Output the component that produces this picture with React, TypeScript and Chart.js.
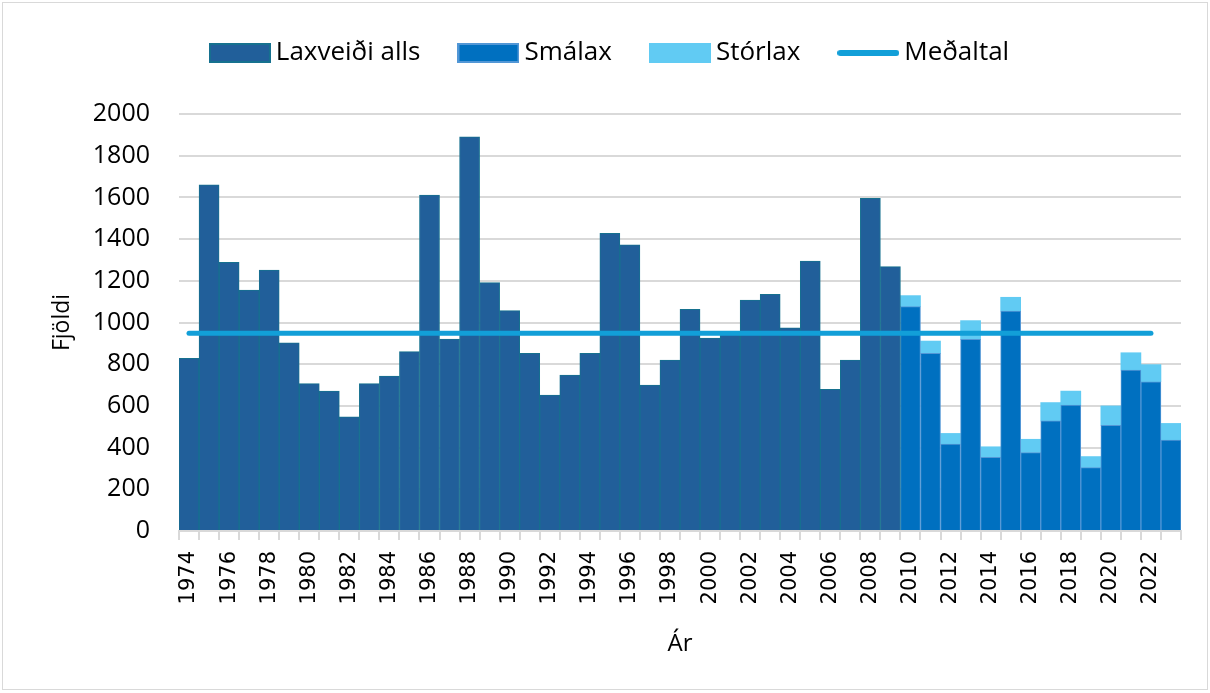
import React, { useEffect, useRef } from 'react';
import { Chart, registerables } from 'chart.js';

Chart.register(...registerables);

const years: string[] = [
  '1974', '1975', '1976', '1977', '1978', '1979', '1980', '1981', '1982', '1983',
  '1984', '1985', '1986', '1987', '1988', '1989', '1990', '1991', '1992', '1993',
  '1994', '1995', '1996', '1997', '1998', '1999', '2000', '2001', '2002', '2003',
  '2004', '2005', '2006', '2007', '2008', '2009', '2010', '2011', '2012', '2013',
  '2014', '2015', '2016', '2017', '2018', '2019', '2020', '2021', '2022', '2023',
];

// Total catch 1974-2009
const laxveidiAlls: (number | null)[] = [
  828, 1660, 1289, 1156, 1252, 903, 707, 671, 547, 707,
  743, 860, 1611, 921, 1891, 1191, 1057, 852, 652, 748,
  852, 1428, 1372, 700, 820, 1063, 925, 945, 1108, 1135,
  975, 1295, 680, 820, 1596, 1268, null, null, null, null,
  null, null, null, null, null, null, null, null, null, null,
];

// Grilse 2010-2023
const smalax: (number | null)[] = [
  null, null, null, null, null, null, null, null, null, null,
  null, null, null, null, null, null, null, null, null, null,
  null, null, null, null, null, null, null, null, null, null,
  null, null, null, null, null, null, 1076, 852, 417, 919,
  353, 1055, 376, 528, 604, 304, 507, 772, 716, 436,
];

// Multi-sea-winter salmon 2010-2023
const storlax: (number | null)[] = [
  null, null, null, null, null, null, null, null, null, null,
  null, null, null, null, null, null, null, null, null, null,
  null, null, null, null, null, null, null, null, null, null,
  null, null, null, null, null, null, 53, 59, 51, 90,
  51, 66, 64, 88, 67, 53, 93, 83, 82, 80,
];

const medaltalValue = 948;
const medaltalFrom = '1974';
const medaltalTo = '2022';

const yTicks: number[] = [0, 200, 400, 600, 800, 1000, 1200, 1400, 1600, 1800, 2000];

const seriesNames = ['Laxveiði alls', 'Smálax', 'Stórlax', 'Meðaltal'];

const C_ALLS = '#215F9A';
const C_ALLS_BORDER = '#16718F';
const C_SMA = '#0070C0';
const C_SMA_BORDER = '#5297D6';
const C_STOR = '#61CBF3';
const C_MEAN = '#129FD8';

function boxImage(fill: string, stroke: string): HTMLCanvasElement {
  const c = document.createElement('canvas');
  c.width = 62;
  c.height = 20;
  const g = c.getContext('2d')!;
  g.fillStyle = stroke;
  g.fillRect(0, 0, 62, 20);
  g.fillStyle = fill;
  g.fillRect(2, 2, 58, 16);
  return c;
}

function lineImage(color: string): HTMLCanvasElement {
  const c = document.createElement('canvas');
  c.width = 62;
  c.height = 8;
  const g = c.getContext('2d')!;
  g.strokeStyle = color;
  g.lineWidth = 6;
  g.lineCap = 'round';
  g.beginPath();
  g.moveTo(3, 4);
  g.lineTo(59, 4);
  g.stroke();
  return c;
}

export default function App() {
  const ref = useRef<HTMLCanvasElement | null>(null);

  useEffect(() => {
    if (!ref.current) return;
    const images = [
      boxImage(C_ALLS, C_ALLS_BORDER),
      boxImage(C_SMA, C_SMA_BORDER),
      boxImage(C_STOR, C_STOR),
      lineImage(C_MEAN),
    ];
    const chart = new Chart(ref.current, {
      type: 'bar',
      data: {
        labels: years,
        datasets: [
          {
            type: 'bar',
            label: seriesNames[0],
            data: laxveidiAlls,
            backgroundColor: C_ALLS,
            borderColor: C_ALLS_BORDER,
            borderWidth: 1,
            barPercentage: 1,
            categoryPercentage: 1,
            stack: 'catch',
          },
          {
            type: 'bar',
            label: seriesNames[1],
            data: smalax,
            backgroundColor: C_SMA,
            borderColor: C_SMA_BORDER,
            borderWidth: 1,
            barPercentage: 1,
            categoryPercentage: 1,
            stack: 'catch',
          },
          {
            type: 'bar',
            label: seriesNames[2],
            data: storlax,
            backgroundColor: C_STOR,
            borderColor: C_STOR,
            borderWidth: 0,
            barPercentage: 1,
            categoryPercentage: 1,
            stack: 'catch',
          },
          {
            type: 'line',
            label: seriesNames[3],
            data: [
              { x: medaltalFrom, y: medaltalValue },
              { x: medaltalTo, y: medaltalValue },
            ] as any,
            borderColor: C_MEAN,
            backgroundColor: C_MEAN,
            borderWidth: 5,
            borderCapStyle: 'round',
            pointRadius: 0,
            stack: 'mean',
            order: -1,
          } as any,
        ],
      },
      options: {
        responsive: false,
        animation: false,
        devicePixelRatio: 1,
        layout: { padding: { left: 45, right: 29, top: -5, bottom: 30 } },
        plugins: {
          tooltip: { enabled: false },
          title: {
            display: true,
            text: '',
            weight: 500,
            font: { size: 10, lineHeight: 1 },
            padding: { top: 0, bottom: 28 },
          } as any,
          legend: {
            display: true,
            position: 'top',
            labels: {
              usePointStyle: true,
              pointStyleWidth: 46,
              boxHeight: 20,
              padding: 45,
              color: '#000000',
              font: { family: 'Open Sans', size: 26 },
              sort: (a: any, b: any) => a.datasetIndex - b.datasetIndex,
              generateLabels: () =>
                seriesNames.map((name, i) => ({
                  text: name,
                  datasetIndex: i,
                  pointStyle: images[i] as any,
                  fillStyle: 'transparent',
                  strokeStyle: 'transparent',
                  lineWidth: 0,
                  hidden: false,
                  fontColor: '#000000',
                })),
            },
          },
        },
        scales: {
          x: {
            stacked: true,
            offset: true,
            afterFit: (s: any) => {
              s.height = 132;
            },
            grid: {
              display: true,
              offset: true,
              drawOnChartArea: false,
              drawTicks: true,
              tickLength: 9,
              color: '#D9D9D9',
              lineWidth: 2,
            },
            border: { display: true, color: '#D9D9D9', width: 2 },
            ticks: {
              autoSkip: false,
              minRotation: 90,
              maxRotation: 90,
              padding: 11,
              color: '#000000',
              font: { family: '"DejaVu Sans", Verdana, sans-serif', size: 21 },
              callback: (_v: any, i: number) => (i % 2 === 0 ? years[i] : ''),
            },
            title: {
              display: true,
              text: 'Ár',
              color: '#000000',
              font: { family: 'Open Sans', size: 24 },
            },
          },
          y: {
            stacked: true,
            min: 0,
            max: 2000,
            afterFit: (s: any) => {
              s.width = 134;
            },
            afterBuildTicks: (s: any) => {
              s.ticks = yTicks.map((v) => ({ value: v }));
            },
            grid: {
              color: '#D9D9D9',
              lineWidth: 2,
              drawTicks: false,
            },
            border: { display: false },
            ticks: {
              padding: 29,
              color: '#000000',
              font: { family: 'Open Sans', size: 25 },
              callback: (v: any) => String(v),
            },
            title: {
              display: true,
              text: 'Fjöldi',
              color: '#000000',
              font: { family: 'Open Sans', size: 23 },
            },
          },
        },
      },
    });
    return () => chart.destroy();
  }, []);

  return (
    <div style={{ position: 'absolute', left: 0, top: 0, width: 1210, height: 693, background: '#ffffff' }}>
      <canvas ref={ref} width={1210} height={693} style={{ display: 'block', width: 1210, height: 693 }} />
      <div
        style={{
          position: 'absolute',
          left: 2,
          top: 2,
          width: 1206,
          height: 688,
          boxSizing: 'border-box',
          border: '1px solid #D9D9D9',
          pointerEvents: 'none',
        }}
      />
    </div>
  );
}
